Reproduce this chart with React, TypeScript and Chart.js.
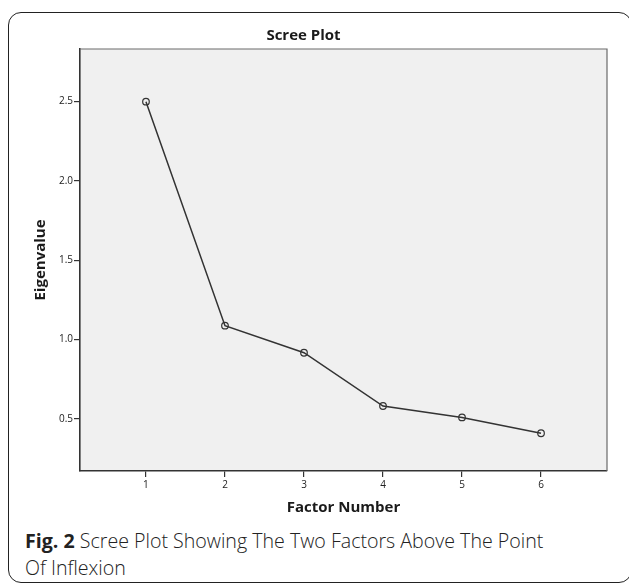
import React, { useEffect, useRef } from "react";
import { Chart, registerables } from "chart.js";

Chart.register(...registerables);

const factorNumbers = [1, 2, 3, 4, 5, 6];
const eigenvalues = [2.5, 1.087, 0.916, 0.58, 0.508, 0.408];
const yTickValues = [0.5, 1.0, 1.5, 2.0, 2.5];
const chartTitle = "Scree Plot";
const xTitle = "Factor Number";
const yTitle = "Eigenvalue";
const captionBold = "Fig. 2";
const captionLine1 = " Scree Plot Showing The Two Factors Above The Point";
const captionLine2 = "Of Inflexion";

const plotBg = {
  id: "plotBg",
  beforeDraw(chart: any) {
    const { ctx, chartArea } = chart;
    if (!chartArea) return;
    ctx.save();
    ctx.fillStyle = "#f0f0f0";
    ctx.fillRect(chartArea.left, chartArea.top, chartArea.right - chartArea.left, chartArea.bottom - chartArea.top);
    ctx.restore();
  },
  beforeDatasetsDraw(chart: any) {
    const { ctx, chartArea } = chart;
    ctx.save();
    ctx.strokeStyle = "#6a6a6a";
    ctx.lineWidth = 1.2;
    ctx.beginPath();
    ctx.moveTo(chartArea.left, chartArea.top);
    ctx.lineTo(chartArea.right, chartArea.top);
    ctx.lineTo(chartArea.right, chartArea.bottom);
    ctx.stroke();
    ctx.restore();
  },
};

export default function App() {
  const ref = useRef<HTMLCanvasElement | null>(null);

  useEffect(() => {
    if (!ref.current) return;
    const chart = new Chart(ref.current, {
      type: "line",
      data: {
        datasets: [
          {
            data: factorNumbers.map((x, i) => ({ x, y: eigenvalues[i] })),
            borderColor: "#333333",
            borderWidth: 1.5,
            pointRadius: 3.3,
            pointBorderWidth: 1.2,
            pointBackgroundColor: "rgba(0,0,0,0)",
            pointBorderColor: "#333333",
            fill: false,
            tension: 0,
          },
        ],
      },
      plugins: [plotBg],
      options: {
        animation: false,
        responsive: false,
        devicePixelRatio: 1,
        layout: { padding: { left: 0, right: 22, top: 0, bottom: 0 } },
        plugins: {
          legend: { display: false },
          tooltip: { enabled: false },
          title: {
            display: true,
            text: chartTitle,
            color: "#1a1a1a",
            font: { family: "'Open Sans', sans-serif", size: 15, weight: "bold", lineHeight: 1.2 },
            padding: { top: 27, bottom: 4 },
          },
        },
        scales: {
          x: {
            type: "linear",
            min: 0.165,
            max: 6.835,
            afterFit(scale: any) {
              scale.height = 54;
            },
            afterBuildTicks(scale: any) {
              scale.ticks = factorNumbers.map((v) => ({ value: v }));
            },
            ticks: {
              color: "#222",
              padding: 2,
              maxRotation: 0,
              font: { family: "'Open Sans', sans-serif", size: 10 },
              callback: (v: any) => String(v),
            },
            grid: {
              drawOnChartArea: false,
              drawTicks: true,
              tickLength: 6,
              color: "#333",
              lineWidth: 1.2,
            },
            border: { display: true, color: "#333", width: 1.6 },
            title: {
              display: true,
              text: xTitle,
              color: "#1a1a1a",
              font: { family: "'Open Sans', sans-serif", size: 15, weight: "bold", lineHeight: 1.2 },
              padding: { top: 0, bottom: 8 },
            },
          },
          y: {
            type: "linear",
            min: 0.17,
            max: 2.832,
            afterFit(scale: any) {
              scale.width = 80;
            },
            afterBuildTicks(scale: any) {
              scale.ticks = yTickValues.map((v) => ({ value: v }));
            },
            ticks: {
              color: "#222",
              padding: 1,
              font: { family: "'Open Sans', sans-serif", size: 10 },
              callback: (v: any) => Number(v).toFixed(1),
            },
            grid: {
              drawOnChartArea: false,
              drawTicks: true,
              tickLength: 6,
              color: "#333",
              lineWidth: 1.2,
            },
            border: { display: true, color: "#333", width: 1.6 },
            title: {
              display: true,
              text: yTitle,
              color: "#1a1a1a",
              font: { family: "'Open Sans', sans-serif", size: 15, weight: "bold", lineHeight: 1.2 },
              padding: { top: 32, bottom: 0 },
            },
          },
        },
      },
    });
    return () => chart.destroy();
  }, []);

  return (
    <div
      style={{
        position: "fixed",
        left: 0,
        top: 0,
        width: 629,
        height: 586,
        overflow: "hidden",
        background: "#ffffff",
      }}
    >
      <div
        style={{
          position: "absolute",
          left: 8,
          top: 12,
          width: 624,
          height: 571,
          boxSizing: "border-box",
          border: "1.8px solid #222",
          borderRadius: 13,
        }}
      />
      <canvas
        ref={ref}
        width={629}
        height={525}
        style={{ position: "absolute", left: 0, top: 0, width: 629, height: 525 }}
      />
      <div
        style={{
          position: "absolute",
          left: 25,
          top: 527,
          width: 600,
          fontFamily: "'Open Sans', sans-serif",
          fontSize: 19.6,
          lineHeight: "27px",
          fontWeight: 300,
          color: "#222",
          whiteSpace: "nowrap",
        }}
      >
        <span style={{ fontWeight: 700 }}>{captionBold}</span>
        {captionLine1}
        <br />
        {captionLine2}
      </div>
    </div>
  );
}
